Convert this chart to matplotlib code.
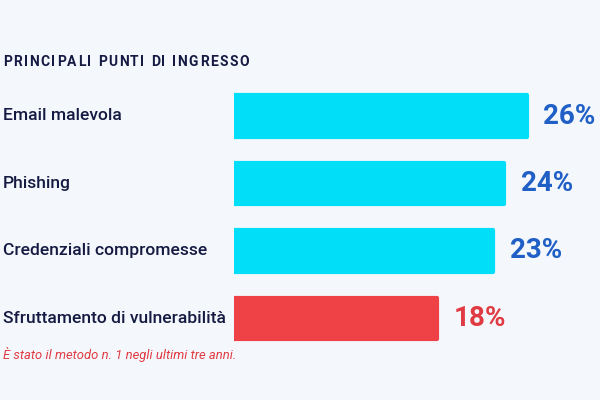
import matplotlib
matplotlib.use("Agg")
import matplotlib.pyplot as plt
import matplotlib.transforms as mtransforms

categories = ["Email malevola", "Phishing", "Credenziali compromesse", "Sfruttamento di vulnerabilità"]
values = [26, 24, 23, 18]
labels = ["26%", "24%", "23%", "18%"]
highlight = [False, False, False, True]
title = "PRINCIPALI PUNTI DI INGRESSO"
note = "È stato il metodo n. 1 negli ultimi tre anni."

BG = "#f4f8fc"
CYAN = "#00dff7"
RED = "#ef4247"
NAVY = "#151a42"
BLUE = "#1f5fc6"
RED_TXT = "#e03a42"
FONT = ["Roboto", "DejaVu Sans"]

W, H = 600, 400
fig = plt.figure(figsize=(6, 4), dpi=100, facecolor=BG)
ax = fig.add_axes([234 / W, 1 - 352.25 / H, (11.25 * 32) / W, 270 / H])
ax.set_facecolor(BG)
ax.set_xlim(0, 32)
ax.set_ylim(3.5, -0.5)
ax.axis("off")

ypos = list(range(len(categories)))
colors = [RED if h else CYAN for h in highlight]
ax.barh(ypos, values, height=0.62, color=colors, edgecolor=colors,
        linewidth=3, joinstyle="round")

trans = mtransforms.blended_transform_factory(fig.transFigure, ax.transData)
for y, cat in zip(ypos, categories):
    ax.text(3 / W, y, cat, transform=trans, ha="left", va="center",
            fontsize=12.6, family=FONT, fontweight="medium", color=NAVY)

for y, v, lab, h in zip(ypos, values, labels, highlight):
    ax.annotate(lab, xy=(v, y), xytext=(17, 0), textcoords="offset pixels",
                ha="left", va="center", fontsize=20, family=FONT,
                fontweight="bold", color=RED_TXT if h else BLUE,
                annotation_clip=False)

# title with letter spacing
renderer = fig.canvas.get_renderer()
x = 3.0
tracking = 1.55
for ch in title:
    t = fig.text(x / W, 1 - 62 / H, ch, ha="left", va="center", fontsize=10,
                 family=FONT, fontweight="bold", color=NAVY)
    if ch == " ":
        x += 3.5 + tracking
    else:
        x += t.get_window_extent(renderer).width + tracking

fig.text(3 / W, 1 - 354 / H, note, ha="left", va="center", fontsize=9.4,
         family=FONT, style="italic", color=RED_TXT)

fig.savefig("out.png", dpi=100, facecolor=BG)
